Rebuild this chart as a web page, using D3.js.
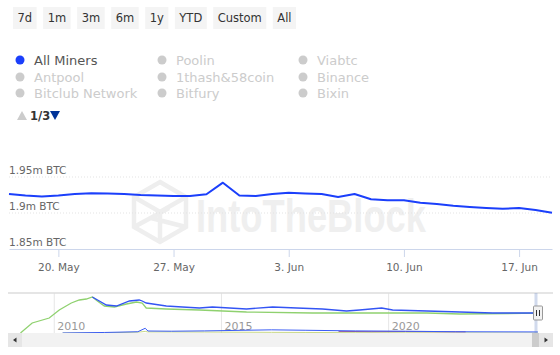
<!DOCTYPE html>
<html>
<head>
<meta charset="utf-8">
<script src="https://cdn.jsdelivr.net/npm/d3@7"></script>
<style>
  body { margin: 0; background: #fff; }
  svg { display: block; font-family: "DejaVu Sans", sans-serif; }
</style>
</head>
<body>
<div id="chart"></div>
<script>
// DATA ===========================================================================================
const buttons = ["7d", "1m", "3m", "6m", "1y", "YTD", "Custom", "All"]
const legendCols = [
  ["All Miners", "Antpool", "Bitclub Network"],
  ["Poolin", "1thash&58coin", "Bitfury"],
  ["Viabtc", "Binance", "Bixin"]
]
const dates = [
  "2024-05-17", "2024-05-18", "2024-05-19", "2024-05-20", "2024-05-21", "2024-05-22", "2024-05-23",
  "2024-05-24", "2024-05-25", "2024-05-26", "2024-05-27", "2024-05-28", "2024-05-29", "2024-05-30",
  "2024-05-31", "2024-06-01", "2024-06-02", "2024-06-03", "2024-06-04", "2024-06-05", "2024-06-06",
  "2024-06-07", "2024-06-08", "2024-06-09", "2024-06-10", "2024-06-11", "2024-06-12", "2024-06-13",
  "2024-06-14", "2024-06-15", "2024-06-16", "2024-06-17", "2024-06-18", "2024-06-19"
]
// All Miners balance, millions of BTC
const allMiners = [
  1.9264, 1.9243, 1.9229, 1.9243, 1.9264, 1.9274, 1.9271,
  1.9264, 1.9250, 1.9243, 1.9236, 1.9236, 1.9260, 1.9421,
  1.9243, 1.9236, 1.9264, 1.9282, 1.9271, 1.9264, 1.9222,
  1.9264, 1.9190, 1.9176, 1.9176, 1.9143, 1.9125, 1.9101,
  1.9083, 1.9069, 1.9060, 1.9069, 1.9042, 1.9004
]
const yTicks = [1.85, 1.9, 1.95]
const yTickLabels = ["1.85m BTC", "1.9m BTC", "1.95m BTC"]
const xTicks = ["2024-05-20", "2024-05-27", "2024-06-03", "2024-06-10", "2024-06-17"]

// navigator series (decimal year, millions)
const navBlueYears = [2011.14, 2011.56, 2011.86, 2012.25, 2012.54, 2012.63, 2012.75, 2013.35, 2013.83, 2014.34,
  2014.73, 2015.75, 2016.53, 2017.25, 2018.02, 2018.74, 2019.13, 2019.79, 2020.12, 2021.14, 2022.13, 2023.11, 2024.46]
const navBlue = [3.42, 2.66, 2.565, 3.04, 3.135, 3.04, 2.85, 2.565, 2.47, 2.375,
  2.47, 2.28, 2.47, 2.375, 2.28, 2.09, 2.185, 2.375, 2.185, 2.09, 1.995, 1.90, 1.90]
const navGreenYears = [2008.99, 2009.34, 2009.85, 2010.15, 2010.51, 2010.75, 2010.96, 2011.14, 2011.29, 2011.50,
  2011.80, 2012.16, 2012.46, 2012.63, 2012.75, 2013.35, 2014.34, 2015.75, 2017.72, 2019.73, 2021.14, 2022.13, 2024.46]
const navGreen = [0, 0.95, 1.425, 2.185, 2.85, 3.135, 3.23, 3.42, 3.04, 2.565,
  2.47, 2.755, 2.945, 2.85, 2.375, 2.28, 2.185, 1.995, 1.90, 1.90, 1.90, 1.805, 1.88]
const navLowYears = [2010.25, 2011.5, 2012.5, 2012.72, 2012.8, 2013.5, 2014.5, 2016.5, 2017.5, 2019.0, 2020.5, 2022.0, 2024.46]
const navLowBlue = [0.0, 0.05, 0.12, 0.45, 0.19, 0.17, 0.2, 0.3, 0.26, 0.2, 0.17, 0.12, 0.1]
const navLowOlive = [0.0, 0.02, 0.08, 0.15, 0.1, 0.1, 0.09, 0.06, 0.05, 0.03, 0.02, 0.01, 0.0]
const navLowPurpleYears = [2018.5, 2019.5, 2020.5, 2021.5, 2022.3]
const navLowPurple = [0.15, 0.13, 0.14, 0.12, 0.11]
const navXTicks = [2010, 2015, 2020]

// SET UP =========================================================================================
const width = 560
const height = 355
const plot = {left: 9, right: 552, top: 165, bottom: 249}
const nav = {left: 8, right: 553, top: 293, bottom: 333}
const blue = "#1b3ffb"

const svg = d3.select('#chart')
  .append('svg')
  .attr('width', width)
  .attr('height', height)

const parse = d3.timeParse("%Y-%m-%d")
const fromYear = y => {
  const yr = Math.floor(y)
  const start = new Date(yr, 0, 1), end = new Date(yr + 1, 0, 1)
  return new Date(+start + (y - yr) * (end - start))
}

// RANGE BUTTONS ==================================================================================
let bx = 13
const btnG = svg.append('g')
buttons.forEach(b => {
  const g = btnG.append('g').attr('transform', `translate(${bx}, 7)`)
  const t = g.append('text')
    .attr('x', 0).attr('y', 15)
    .attr('font-size', 11.5)
    .attr('fill', '#333')
    .text(b)
  const w = t.node().getComputedTextLength() + 9
  t.attr('x', 4.5)
  g.insert('rect', 'text')
    .attr('width', w).attr('height', 22)
    .attr('fill', '#f4f4f4')
  bx += w + 6.5
})

// LEGEND =========================================================================================
const colX = [20, 162, 303]
const rowY = [60, 77, 93]
legendCols.forEach((col, ci) => {
  col.forEach((name, ri) => {
    const active = name === "All Miners"
    svg.append('circle')
      .attr('cx', colX[ci]).attr('cy', rowY[ri])
      .attr('r', 4.5)
      .attr('fill', active ? blue : '#cccccc')
    svg.append('text')
      .attr('x', colX[ci] + 14).attr('y', rowY[ri] + 4.5)
      .attr('font-size', 13)
      .attr('fill', active ? '#555' : '#cccccc')
      .text(name)
  })
})
// pager
svg.append('path').attr('d', 'M17,120 L22,111 L27,120 Z').attr('fill', '#cccccc')
svg.append('text').attr('x', 30).attr('y', 120).attr('font-size', 11.5).attr('font-weight', 'bold')
  .attr('fill', '#333').text('1/3')
svg.append('path').attr('d', 'M50,111 L60,111 L55,120 Z').attr('fill', '#003399')

// WATERMARK ======================================================================================
const wm = svg.append('g').attr('fill', 'none').attr('stroke', '#eeeeee').attr('stroke-width', 4.5)
const hx = 160, hy = 212, hr = 30
const hex = d3.range(6).map(i => [hx + hr * Math.cos(Math.PI / 3 * i - Math.PI / 2), hy + hr * Math.sin(Math.PI / 3 * i - Math.PI / 2)])
wm.append('path').attr('d', 'M' + hex.join('L') + 'Z')
wm.append('path').attr('d', `M${hex[5]}L${hx},${hy}L${hex[1]}M${hx},${hy}L${hex[3]}M${hex[4]}L${hx + 9},${hy - 4}M${hex[2]}L${hx - 9},${hy + 6}`)
svg.append('text')
  .attr('x', 196).attr('y', 232)
  .attr('font-family', 'Liberation Sans, Arial, sans-serif')
  .attr('font-weight', 'bold')
  .attr('font-size', 46)
  .attr('textLength', 230)
  .attr('lengthAdjust', 'spacingAndGlyphs')
  .attr('fill', '#efefef')
  .text('IntoTheBlock')

// SCALES AND AXES ================================================================================
const x = d3.scaleTime()
  .domain([parse(dates[0]), parse(dates[dates.length - 1])])
  .range([plot.left, plot.right])

const y = d3.scaleLinear()
  .domain([1.85, 1.95])
  .range([plot.bottom, 177])

// grid
svg.append('g')
  .selectAll('line')
  .data(yTicks.slice(1))
  .join('line')
    .attr('x1', plot.left).attr('x2', plot.right)
    .attr('y1', d => y(d)).attr('y2', d => y(d))
    .attr('stroke', '#e3e3e3')
    .attr('stroke-dasharray', '1,2')

svg.append('g')
  .selectAll('text')
  .data(yTicks)
  .join('text')
    .attr('x', plot.left)
    .attr('y', d => y(d) - 3)
    .attr('font-size', 10.5)
    .attr('fill', '#666')
    .text((d, i) => yTickLabels[i])

const xAxis = svg.append('g')
  .attr('transform', `translate(0, ${plot.bottom})`)
  .call(d3.axisBottom(x)
    .tickValues(xTicks.map(parse))
    .tickFormat(d3.timeFormat("%-d. %b"))
    .tickSize(8)
    .tickSizeOuter(0))
xAxis.select('.domain').attr('stroke', '#ccd6eb')
xAxis.selectAll('.tick line').attr('stroke', '#ccd6eb')
xAxis.selectAll('.tick text')
  .attr('font-family', 'DejaVu Sans, sans-serif')
  .attr('font-size', 10.5)
  .attr('fill', '#666')
  .attr('dy', '1.05em')

// MARKS ==========================================================================================
const line = d3.line()
  .x((d, i) => x(parse(dates[i])))
  .y(d => y(d))

svg.append('path')
  .datum(allMiners)
  .attr('d', line)
  .attr('fill', 'none')
  .attr('stroke', blue)
  .attr('stroke-width', 2)
  .attr('stroke-linejoin', 'round')

// NAVIGATOR ======================================================================================
const nx = d3.scaleTime()
  .domain([new Date(2009, 0, 3), new Date(2024, 5, 19)])
  .range([21, 538])
const ny = d3.scaleLinear()
  .domain([0, 3.8])
  .range([nav.bottom, nav.top])

const navG = svg.append('g')
navG.selectAll('line.grid')
  .data(navXTicks)
  .join('line')
    .attr('x1', d => nx(new Date(d, 0, 1))).attr('x2', d => nx(new Date(d, 0, 1)))
    .attr('y1', nav.top).attr('y2', nav.bottom)
    .attr('stroke', '#e6e6e6')
navG.selectAll('text.yr')
  .data(navXTicks)
  .join('text')
    .attr('x', d => nx(new Date(d, 0, 1)) + 3)
    .attr('y', 330)
    .attr('font-size', 11)
    .attr('fill', '#999')
    .text(d => d)

const navLine = (yrs, vals, color, w) => {
  navG.append('path')
    .datum(vals)
    .attr('d', d3.line().x((d, i) => nx(fromYear(yrs[i]))).y(d => ny(d)))
    .attr('fill', 'none')
    .attr('stroke', color)
    .attr('stroke-width', w)
}
navLine(navLowYears, navLowOlive, '#c9d98a', 1)
navLine(navLowPurpleYears, navLowPurple, '#a05a9a', 1)
navLine(navLowYears, navLowBlue, '#3a5cf5', 1)
navLine(navGreenYears, navGreen, '#8fd16f', 1.3)
navLine(navBlueYears, navBlue, '#3354f4', 1.3)

// outline
navG.append('line')
  .attr('x1', nav.left).attr('x2', nav.right)
  .attr('y1', nav.top).attr('y2', nav.top)
  .attr('stroke', '#dddddd').attr('stroke-width', 1.5)

// selected zone + handle
const selX0 = nx(new Date(2024, 4, 17)), selX1 = nx(new Date(2024, 5, 19))
navG.append('rect')
  .attr('x', selX0 - 0.5).attr('y', nav.top)
  .attr('width', Math.max(1.5, selX1 - selX0)).attr('height', nav.bottom - nav.top)
  .attr('fill', 'rgba(102,133,194,0.3)')
navG.append('rect')
  .attr('x', selX1 - 4.5).attr('y', 306)
  .attr('width', 9).attr('height', 14)
  .attr('fill', '#f2f2f2').attr('stroke', '#999').attr('rx', 1)
navG.append('path')
  .attr('d', `M${selX1 - 1.5},310V316M${selX1 + 1.5},310V316`)
  .attr('stroke', '#333').attr('stroke-width', 1)

// scrollbar
const sb = svg.append('g')
sb.append('rect').attr('x', nav.left).attr('y', 333).attr('width', nav.right - nav.left).attr('height', 14).attr('fill', '#f2f2f2')
sb.append('rect').attr('x', nav.left).attr('y', 333).attr('width', 14).attr('height', 14).attr('fill', '#e6e6e6')
sb.append('rect').attr('x', nav.right - 14).attr('y', 333).attr('width', 14).attr('height', 14).attr('fill', '#e6e6e6')
sb.append('rect').attr('x', selX0 - 3).attr('y', 333).attr('width', 7).attr('height', 14).attr('fill', '#cccccc')
sb.append('path').attr('d', `M${nav.left + 8.5},337.5L${nav.left + 5},340L${nav.left + 8.5},342.5Z`).attr('fill', '#333')
sb.append('path').attr('d', `M${nav.right - 8.5},337.5L${nav.right - 5},340L${nav.right - 8.5},342.5Z`).attr('fill', '#333')
</script>
</body>
</html>
